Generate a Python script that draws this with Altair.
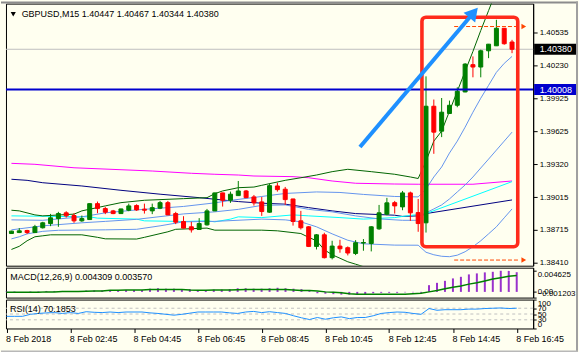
import altair as alt
import pandas as pd

# ---------------- data (GBPUSD M15, 8 Feb 2018 00:45 .. 16:45) ----------------
symbol = "GBPUSD,M15"
opens = [1.38679, 1.38688, 1.38707, 1.38688, 1.38732, 1.38771, 1.38817, 1.38870, 1.38845, 1.38796,
         1.38808, 1.38955, 1.38909, 1.38888, 1.38863, 1.38894, 1.38937, 1.38904, 1.38888, 1.38913,
         1.38964, 1.38863, 1.38790, 1.38741, 1.38716, 1.38759, 1.38888, 1.39054, 1.38986, 1.39029,
         1.39072, 1.39017, 1.38971, 1.38876, 1.39118, 1.39088, 1.38998, 1.38796, 1.38741, 1.38560,
         1.38667, 1.38456, 1.38563, 1.38548, 1.38495, 1.38591, 1.38587, 1.38722, 1.38858, 1.38964,
         1.38925, 1.39054, 1.38872, 1.38778, 1.39854, 1.39624, 1.39787, 1.39863, 1.39986, 1.40238,
         1.40216, 1.40366, 1.40412, 1.40574, 1.40447]
highs = [1.38704, 1.38729, 1.38713, 1.38759, 1.38787, 1.38860, 1.38879, 1.38885, 1.38867, 1.38845,
         1.38958, 1.38974, 1.38925, 1.38897, 1.38908, 1.38955, 1.38949, 1.38955, 1.38955, 1.38980,
         1.38980, 1.38879, 1.38839, 1.38787, 1.38821, 1.38906, 1.39056, 1.39056, 1.39066, 1.39164,
         1.39081, 1.39035, 1.39017, 1.39136, 1.39148, 1.39109, 1.39000, 1.38888, 1.38747, 1.38674,
         1.38686, 1.38612, 1.38621, 1.38560, 1.38618, 1.38628, 1.38747, 1.38943, 1.39008, 1.38980,
         1.39072, 1.39066, 1.38998, 1.40130, 1.39916, 1.39930, 1.39906, 1.40029, 1.40252, 1.40314,
         1.40376, 1.40429, 1.40652, 1.40576, 1.40467]
lows = [1.38676, 1.38683, 1.38674, 1.38683, 1.38725, 1.38747, 1.38741, 1.38826, 1.38778, 1.38787,
        1.38806, 1.38867, 1.38858, 1.38858, 1.38861, 1.38885, 1.38888, 1.38863, 1.38858, 1.38904,
        1.38849, 1.38766, 1.38727, 1.38688, 1.38714, 1.38752, 1.38886, 1.38928, 1.38962, 1.39027,
        1.39008, 1.38937, 1.38842, 1.38870, 1.39066, 1.38943, 1.38752, 1.38716, 1.38554, 1.38532,
        1.38449, 1.38440, 1.38502, 1.38477, 1.38480, 1.38520, 1.38514, 1.38713, 1.38848, 1.38863,
        1.38894, 1.38796, 1.38695, 1.38688, 1.39415, 1.39569, 1.39785, 1.39845, 1.39983, 1.40121,
        1.40121, 1.40298, 1.40410, 1.40422, 1.40344]
closes = [1.38701, 1.38704, 1.38688, 1.38741, 1.38778, 1.38824, 1.38863, 1.38842, 1.38796, 1.38817,
          1.38955, 1.38909, 1.38876, 1.38863, 1.38906, 1.38934, 1.38897, 1.38894, 1.38918, 1.38964,
          1.38851, 1.38784, 1.38729, 1.38713, 1.38771, 1.38888, 1.39054, 1.38986, 1.39042, 1.39072,
          1.39010, 1.38962, 1.38882, 1.39121, 1.39084, 1.38992, 1.38790, 1.38732, 1.38560, 1.38667,
          1.38456, 1.38563, 1.38538, 1.38499, 1.38594, 1.38596, 1.38741, 1.38870, 1.38962, 1.38934,
          1.39054, 1.38870, 1.38771, 1.39854, 1.39615, 1.39799, 1.39863, 1.39992, 1.40243, 1.40216,
          1.40366, 1.40427, 1.40574, 1.40431, 1.40380]
bars = list(range(len(opens)))

# moving averages (vertices: bar index, price)
magenta_bars = [0, 3, 8, 18, 23, 26, 29, 31, 36, 38, 41, 44, 49, 52, 59, 64]
magenta_vals = [1.39327, 1.39318, 1.39286, 1.39256, 1.39235, 1.39226, 1.39219, 1.39210, 1.39204, 1.39194,
                1.39164, 1.39143, 1.39136, 1.39134, 1.39134, 1.39164]
navy_bars = [0, 2, 4, 9, 14, 19, 24, 29, 32, 35, 38, 41, 44, 49, 50, 52, 53, 64]
navy_vals = [1.39180, 1.39170, 1.39148, 1.39118, 1.39078, 1.39042, 1.39010, 1.38974, 1.38959, 1.38950,
             1.38918, 1.38888, 1.38863, 1.38848, 1.38837, 1.38842, 1.38863, 1.38989]
cyan_bars = [0, 10, 11, 16, 17, 22, 25, 26, 28, 29, 32, 36, 38, 42, 45, 49, 50, 53, 64]
cyan_vals = [1.38842, 1.38833, 1.38821, 1.38812, 1.38796, 1.38790, 1.38796, 1.38787, 1.38812, 1.38833,
             1.38826, 1.38851, 1.38842, 1.38826, 1.38812, 1.38826, 1.38837, 1.38863, 1.39158]

# Bollinger bands, dark green (outer)
bb2_up_bars = [0, 1, 3, 4, 8, 9, 12, 14, 17, 22, 25, 26, 27, 29, 31, 32, 35, 37, 39, 41, 43, 46, 49, 51,
               52, 53, 54, 55, 56, 57, 58, 59, 60, 61, 62]
bb2_up_vals = [1.38894, 1.38888, 1.38851, 1.38842, 1.38858, 1.38888, 1.38934, 1.38964, 1.38986, 1.39001,
               1.39010, 1.39047, 1.39072, 1.39102, 1.39108, 1.39124, 1.39170, 1.39194, 1.39219, 1.39250,
               1.39272, 1.39250, 1.39226, 1.39201, 1.39187, 1.39348, 1.39532, 1.39624, 1.39808, 1.39992,
               1.40176, 1.40360, 1.40553, 1.40737, 1.40921]
bb2_lo_bars = [0, 1, 2, 3, 4, 5, 9, 11, 12, 16, 17, 20, 21, 25, 26, 32, 34, 37, 38, 39, 40, 41, 42, 43,
               44, 45, 46]
bb2_lo_vals = [1.38532, 1.38561, 1.38612, 1.38649, 1.38658, 1.38667, 1.38667, 1.38644, 1.38630, 1.38628,
               1.38644, 1.38695, 1.38718, 1.38729, 1.38710, 1.38710, 1.38704, 1.38679, 1.38644, 1.38612,
               1.38529, 1.38483, 1.38451, 1.38418, 1.38396, 1.38373, 1.38336]
# Bollinger bands, light blue (inner + middle)
bb1_up_bars = [0, 4, 9, 12, 16, 22, 26, 28, 32, 35, 39, 42, 45, 49, 52, 53, 54, 55, 56, 57, 58, 59, 60,
               61, 62, 63, 64]
bb1_up_vals = [1.38805, 1.38801, 1.38833, 1.38870, 1.38897, 1.38929, 1.38962, 1.38985, 1.39021, 1.39049,
               1.39063, 1.39058, 1.39040, 1.39021, 1.39017, 1.39090, 1.39201, 1.39293, 1.39422, 1.39532,
               1.39661, 1.39799, 1.39928, 1.40047, 1.40167, 1.40250, 1.40314]
bb_mid_bars = [0, 4, 9, 12, 16, 22, 26, 29, 32, 35, 38, 41, 44, 47, 50, 52, 53, 54, 55, 56, 57, 58, 59,
               60, 61, 62, 63, 64]
bb_mid_vals = [1.38713, 1.38750, 1.38778, 1.38791, 1.38810, 1.38860, 1.38879, 1.38902, 1.38939, 1.38943,
               1.38902, 1.38879, 1.38842, 1.38814, 1.38801, 1.38801, 1.38870, 1.38906, 1.38943, 1.38998,
               1.39063, 1.39127, 1.39201, 1.39284, 1.39366, 1.39449, 1.39532, 1.39615]
bb1_lo_bars = [0, 1, 2, 4, 6, 12, 16, 19, 22, 26, 32, 35, 37, 39, 41, 43, 45, 49, 52, 53, 54, 55, 56,
               57, 58, 59, 60, 61, 62, 63, 64]
bb1_lo_vals = [1.38630, 1.38649, 1.38676, 1.38699, 1.38709, 1.38713, 1.38718, 1.38750, 1.38787, 1.38791,
               1.38812, 1.38805, 1.38787, 1.38741, 1.38676, 1.38617, 1.38584, 1.38572, 1.38571, 1.38506,
               1.38483, 1.38469, 1.38465, 1.38479, 1.38511, 1.38557, 1.38612, 1.38676, 1.38741, 1.38824,
               1.38906]

# MACD(12,26,9)
macd_main = [0.0001, 0.0001, 0.0000, 0.0001, 0.0001,
             0.0002, 0.0002, 0.0002, 0.0001, 0.0001,
             0.0003, 0.0003, 0.0003, 0.0003, 0.0003, 0.0004, 0.0004, 0.0004,
             0.0007, 0.0008, 0.0007, 0.0007, 0.0006, 0.0006,
             0.0004, 0.0004, 0.0005, 0.0005, 0.0006,
             0.0008, 0.0008, 0.0007, 0.0007,
             0.0008, 0.0009, 0.0008, 0.0007, 0.0006,
             0.0002,
             -0.0003, -0.0004, -0.0005, -0.0006, -0.0006, -0.0006, -0.0005,
             -0.0003, -0.0002, -0.0002, -0.0002, -0.0001, -0.0001, -0.0002,
             0.00147, 0.00198, 0.00242, 0.00295, 0.00330, 0.00383, 0.00405, 0.00427, 0.00440, 0.004625,
             0.00460, 0.004309]
macd_signal = [-0.0001, -0.0001, -0.0001, -0.0001, -0.0001,
               0.0000, 0.0000, 0.0001, 0.0001, 0.0001,
               0.00015, 0.0002, 0.0002, 0.00035, 0.00035, 0.0004, 0.0004, 0.0004,
               0.0005, 0.0005, 0.0005, 0.0005, 0.0005, 0.0004,
               0.00035, 0.00035, 0.0004, 0.0004, 0.00042,
               0.00045, 0.0005, 0.0005, 0.0005, 0.0005, 0.0005, 0.0005,
               0.0004, 0.0003, 0.0003, 0.0002,
               0.0000, -0.0001, -0.0002, -0.0004, -0.0005,
               -0.0005, -0.0005, -0.0005, -0.0005, -0.0005, -0.0005, -0.0004, -0.0003,
               0.0000, 0.0003, 0.0007, 0.0010, 0.0013, 0.0017, 0.0020, 0.0024, 0.0028, 0.0031,
               0.0034, 0.00357]
macd_ticks = [0.004625, 0.0, -0.001203]

# RSI(14)
rsi = [42, 42, 42, 49, 52, 54, 55, 52, 55, 52, 58, 56, 55, 57, 55, 57, 57, 57, 54, 52,
       49, 46, 49, 53, 57, 57, 57, 57, 54, 52, 57, 59, 55, 58, 55, 52, 44, 37, 31, 38,
       32, 37, 40, 34, 38, 38, 44, 52, 55, 57, 56, 52, 49, 69, 63, 65, 65, 65, 67, 67,
       69, 70, 71, 69, 70.1853]
rsi_levels = [30, 50, 70]
rsi_ticks = [0, 30, 50, 70, 100]

# axes
time_tick_bars = [0, 8, 16, 24, 32, 40, 48, 56, 64]
time_tick_labels = ["8 Feb 2018", "8 Feb 02:45", "8 Feb 04:45", "8 Feb 06:45", "8 Feb 08:45",
                    "8 Feb 10:45", "8 Feb 12:45", "8 Feb 14:45", "8 Feb 16:45"]
price_ticks = [1.40535, 1.40230, 1.39925, 1.39625, 1.39320, 1.39015, 1.38715, 1.38410]
bid_price = 1.40380
level_price = 1.40008

# annotations (in bar / price units)
box_bars = [52.48, 64.73]
box_prices = [1.38557, 1.40676]
arrow_bars = [44.56, 58.75]
arrow_prices = [1.39477, 1.40690]
arrow_head_bar = 59.08
arrow_head_price = 1.40718
mark_levels = [1.40590, 1.38434]
mark_from_bar = 56.6
mark_to_bar = 65.0
mark_head_bar = 65.5

# ---------------- styling ----------------
FONT = "Liberation Sans"
BG = "#FFFFF0"
GREEN = "#008000"
RED = "#FF0000"

X_SCALE = alt.Scale(domain=[-0.0625, 66.0625], nice=False, zero=False)
P_SCALE = alt.Scale(domain=[1.38382, 1.408016], nice=False, zero=False)
M_SCALE = alt.Scale(domain=[-0.00125, 0.0053], nice=False, zero=False)
R_SCALE = alt.Scale(domain=[0, 100], nice=False, zero=False)

price_axis = alt.Axis(orient="right", values=price_ticks, format=".5f", tickSize=4, labelPadding=2,
                      grid=False, domain=True, domainColor="#000000", tickColor="#000000",
                      labelFontSize=8, labelFont=FONT, labelColor="#000000", title=None,
                      labelOverlap=False, labelFlush=False)
macd_axis = alt.Axis(orient="right", values=macd_ticks,
                     labelExpr="datum.value == 0 ? '0.00' : format(datum.value, '.6f')",
                     tickSize=3, labelPadding=1, grid=False, domain=True, domainColor="#000000",
                     tickColor="#000000", labelFontSize=8, labelFont=FONT, labelColor="#000000",
                     title=None, labelOverlap=False, labelFlush=False,
                     labelBaseline={"condition": [{"test": "datum.value > 0.004", "value": "top"},
                                                  {"test": "datum.value < 0", "value": "bottom"}],
                                    "value": "middle"})
rsi_axis = alt.Axis(orient="right", values=rsi_ticks, format="d", tickSize=3, labelPadding=1,
                    grid=False, domain=True, domainColor="#000000", tickColor="#000000",
                    labelFontSize=8, labelFont=FONT, labelColor="#000000", title=None,
                    labelOverlap=False, labelFlush=True)
lab_js = "[" + ",".join("'" + s + "'" for s in time_tick_labels) + "]"
bar_js = "[" + ",".join(str(b) for b in time_tick_bars) + "]"
time_axis = alt.Axis(values=time_tick_bars, labelExpr=f"{lab_js}[indexof({bar_js}, datum.value)]",
                     tickSize=4, labelPadding=2, domain=False, grid=False, labelAlign="left",
                     labelBaseline="top", labelFontSize=9, labelFont=FONT, labelColor="#000000",
                     tickColor="#000000", title=None, labelOverlap=False, labelFlush=False,
                     labelOffset=-1)


def xq(field="bar"):
    return alt.X(f"{field}:Q", scale=X_SCALE, axis=None)


def yp(field):
    return alt.Y(f"{field}:Q", scale=P_SCALE, axis=price_axis)


def line_layer(bx, vals, color, width=1.0):
    df = pd.DataFrame({"bar": bx, "p": vals})
    return alt.Chart(df).mark_line(color=color, strokeWidth=width, clip=True).encode(
        x=xq(), y=yp("p"))


one = pd.DataFrame({"k": [0]})

# ---------------- main price panel ----------------
# window frame (filled rects: their bounds are exact, so they fix the page edges)
frame_top = alt.Chart(one).mark_rect(color="#8C8C8C").encode(
    x=alt.value(-5), x2=alt.value(574), y=alt.value(-2), y2=alt.value(0))
frame_right = alt.Chart(one).mark_rect(color="#A0A0A0").encode(
    x=alt.value(572), x2=alt.value(574), y=alt.value(-2), y2=alt.value(350))
frame_bottom = alt.Chart(one).mark_rect(color="#B8B8B8").encode(
    x=alt.value(-5), x2=alt.value(574), y=alt.value(348), y2=alt.value(350))

bid_rule = alt.Chart(pd.DataFrame({"p": [bid_price]})).mark_rule(
    color="#C0C0C0", strokeWidth=1).encode(y=yp("p"))
level_rule = alt.Chart(pd.DataFrame({"p": [level_price]})).mark_rule(
    color="#0000CD", strokeWidth=2).encode(y=yp("p"))

cdf = pd.DataFrame({"bar": bars, "o": opens, "h": highs, "l": lows, "c": closes})
cdf["dir"] = ["up" if c >= o else "down" for o, c in zip(opens, closes)]
dir_scale = alt.Scale(domain=["up", "down"], range=[GREEN, RED])
wicks = alt.Chart(cdf).mark_rule(strokeWidth=1, clip=True).encode(
    x=xq(), y=yp("l"), y2="h:Q", color=alt.Color("dir:N", scale=dir_scale, legend=None))
bodies = alt.Chart(cdf).mark_bar(size=4, strokeWidth=1, clip=True).encode(
    x=xq(), y=yp("o"), y2="c:Q",
    color=alt.Color("dir:N", scale=dir_scale, legend=None),
    stroke=alt.Stroke("dir:N", scale=dir_scale, legend=None))

mdf_lv = pd.DataFrame({"p": mark_levels, "b1": [mark_from_bar] * len(mark_levels),
                       "b2": [mark_to_bar] * len(mark_levels), "bh": [mark_head_bar] * len(mark_levels)})
mark_rules = alt.Chart(mdf_lv).mark_rule(color="#FF4500", strokeWidth=1, strokeDash=[4, 2]).encode(
    x=xq("b1"), x2="b2:Q", y=yp("p"))
mark_heads = alt.Chart(mdf_lv).mark_point(shape="triangle-right", filled=True, size=30, opacity=1,
                                           color="#FF4500").encode(x=xq("bh"), y=yp("p"))

box = alt.Chart(pd.DataFrame({"b1": [box_bars[0]], "b2": [box_bars[1]],
                              "p1": [box_prices[0]], "p2": [box_prices[1]]})).mark_rect(
    filled=False, stroke="#FF2B1C", strokeWidth=3.6, cornerRadius=4).encode(
    x=xq("b1"), x2="b2:Q", y=yp("p1"), y2="p2:Q")

arrow = alt.Chart(pd.DataFrame({"b1": [arrow_bars[0]], "b2": [arrow_bars[1]],
                                "p1": [arrow_prices[0]], "p2": [arrow_prices[1]]})).mark_rule(
    color="#1E90FF", strokeWidth=4, strokeCap="butt").encode(
    x=xq("b1"), x2="b2:Q", y=yp("p1"), y2="p2:Q")
arrow_head = alt.Chart(pd.DataFrame({"bar": [arrow_head_bar], "p": [arrow_head_price]})).mark_point(
    shape="triangle-up", filled=True, size=230, angle=40, opacity=1, color="#1E90FF").encode(
    x=xq(), y=yp("p"))

header = f"{symbol}  {opens[-1]:.5f} {highs[-1]:.5f} {lows[-1]:.5f} {closes[-1]:.5f}"
hdr_tri = alt.Chart(one).mark_point(shape="triangle-down", filled=True, size=26, opacity=1,
                                    color="#000000").encode(x=alt.value(7.3), y=alt.value(10.7))
hdr_text = alt.Chart(pd.DataFrame({"t": [header]})).mark_text(
    align="left", baseline="middle", font=FONT, fontSize=9, color="#000000").encode(
    x=alt.value(15.7), y=alt.value(10.7), text="t:N")

hl = pd.DataFrame({"p": [bid_price, level_price], "fill": ["#000000", "#0000CD"],
                   "lab": [f"{bid_price:.5f}", f"{level_price:.5f}"]})
hl_box = alt.Chart(hl).mark_tick(orient="horizontal", size=42, thickness=11, opacity=1).encode(
    x=alt.value(551), y=yp("p"), color=alt.Color("fill:N", scale=None))
hl_text = alt.Chart(hl).mark_text(align="left", baseline="middle", font=FONT, fontSize=9,
                                  color="#FFFFFF").encode(x=alt.value(535.5), y=yp("p"), text="lab:N")

main = alt.layer(
    frame_top, frame_right, frame_bottom, bid_rule,
    line_layer(magenta_bars, magenta_vals, "#FF00FF"),
    line_layer(navy_bars, navy_vals, "#000080"),
    line_layer(cyan_bars, cyan_vals, "#00FFFF"),
    line_layer(bb1_up_bars, bb1_up_vals, "#6495ED"),
    line_layer(bb_mid_bars, bb_mid_vals, "#6495ED"),
    line_layer(bb1_lo_bars, bb1_lo_vals, "#6495ED"),
    line_layer(bb2_up_bars, bb2_up_vals, "#006400"),
    line_layer(bb2_lo_bars, bb2_lo_vals, "#006400"),
    wicks, bodies, level_rule, mark_rules, mark_heads, box, arrow, arrow_head,
    hdr_tri, hdr_text, hl_box, hl_text,
).properties(width=529, height=263)

# ---------------- MACD panel ----------------
mdf = pd.DataFrame({"bar": bars, "v": macd_main, "s": macd_signal})
hist = alt.Chart(mdf).mark_rule(color="#9932CC", strokeWidth=2).encode(
    x=xq(), y=alt.Y("v:Q", scale=M_SCALE, axis=macd_axis), y2=alt.datum(0))
signal = alt.Chart(mdf).mark_line(color=GREEN, strokeWidth=1.5).encode(
    x=xq(), y=alt.Y("s:Q", scale=M_SCALE, axis=macd_axis))
macd_title = f"MACD(12,26,9) {macd_main[-1]:.6f} {macd_signal[-1]:.6f}"
macd_text = alt.Chart(pd.DataFrame({"t": [macd_title]})).mark_text(
    align="left", baseline="middle", font=FONT, fontSize=9, color="#000000").encode(
    x=alt.value(4.3), y=alt.value(9), text="t:N")
macd = alt.layer(hist, signal, macd_text).properties(width=529, height=30)

# ---------------- RSI panel ----------------
rdf = pd.DataFrame({"bar": bars, "r": rsi})
rsi_lv = alt.Chart(pd.DataFrame({"r": rsi_levels})).mark_rule(
    color="#C0C0C0", strokeWidth=1, strokeDash=[3, 3]).encode(
    y=alt.Y("r:Q", scale=R_SCALE, axis=rsi_axis))
rsi_line = alt.Chart(rdf).mark_line(color="#1E90FF", strokeWidth=1).encode(
    x=alt.X("bar:Q", scale=X_SCALE, axis=time_axis),
    y=alt.Y("r:Q", scale=R_SCALE, axis=rsi_axis))
rsi_title = f"RSI(14) {rsi[-1]:.4f}"
rsi_text = alt.Chart(pd.DataFrame({"t": [rsi_title]})).mark_text(
    align="left", baseline="middle", font=FONT, fontSize=9, color="#000000").encode(
    x=alt.value(4), y=alt.value(9.3), text="t:N")
rsi_panel = alt.layer(rsi_lv, rsi_line, rsi_text).properties(width=529, height=29)

chart = alt.vconcat(main, macd, rsi_panel, spacing=2, bounds="flush").properties(
    background=BG, padding=0
).configure_view(stroke="#000000", strokeWidth=1)

chart.save("out.html", embed_options={"renderer": "svg", "actions": False})
